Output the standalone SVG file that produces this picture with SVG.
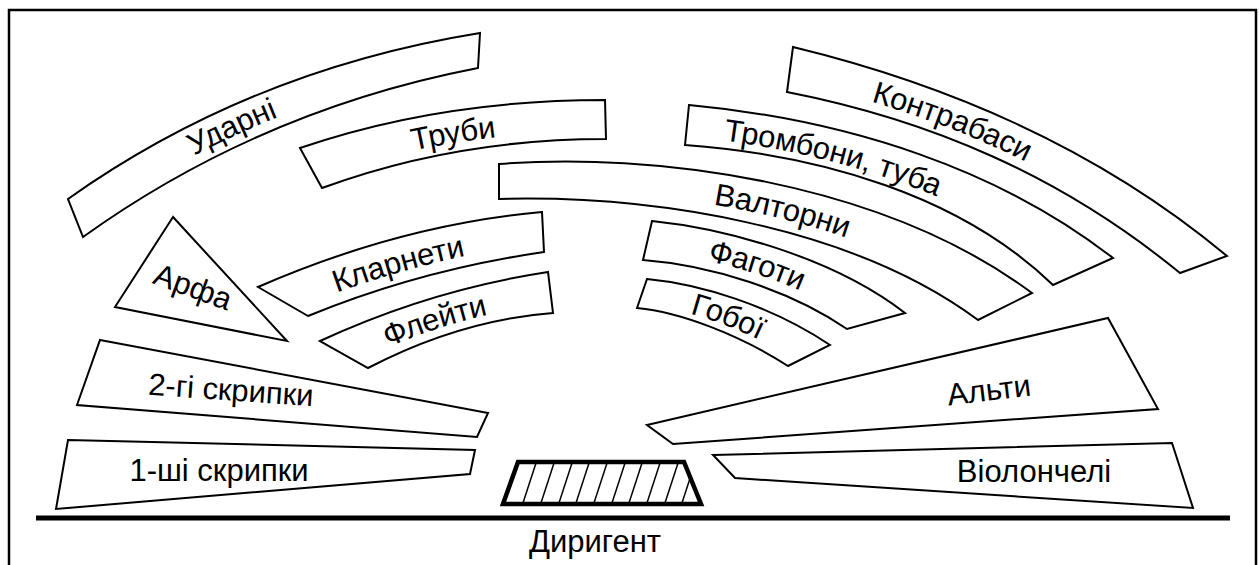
<svg xmlns="http://www.w3.org/2000/svg" width="1259" height="565" viewBox="0 0 1259 565">
  <style>
    .band { fill: #fff; stroke: #000; stroke-width: 2; stroke-linejoin: miter; }
    .guide { fill: none; stroke: none; }
    .lbl { font-family: "Liberation Sans", Arial, sans-serif; font-size: 31px; fill: #000; }
    .hatch { stroke: #000; stroke-width: 1.5; }
  </style>
  <defs>
    <!-- invisible centre lines of the curved seating rows, used to set the labels -->
    <path id="g-udarni" class="guide" d="M75,216 Q255,88 479,48"/>
    <path id="g-truby" class="guide" d="M311,168 Q448,120 605,120"/>
    <path id="g-klarnety" class="guide" d="M283,302 Q410,248 543,232"/>
    <path id="g-fleity" class="guide" d="M344,355 Q445,305 550,293"/>
    <path id="g-kontrabasy" class="guide" d="M790,70 C945,103 1080,162 1203,265"/>
    <path id="g-trombony" class="guide" d="M687,125 C840,140 990,190 1083,272"/>
    <path id="g-valtorny" class="guide" d="M499,181 C650,173 865,202 1005,306"/>
    <path id="g-fagoty" class="guide" d="M648,240 C715,246 810,272 876,321"/>
    <path id="g-goboi" class="guide" d="M642,293 C690,298 755,320 809,355"/>
    <clipPath id="podium-clip">
      <polygon points="518,462 684,462 701,504 503,504"/>
    </clipPath>
  </defs>

  <!-- outer frame, open at the bottom edge -->
  <path d="M9,570 V10 H1256 V570" fill="none" stroke="#000" stroke-width="2.5"/>

  <!-- stage front line -->
  <g id="connectors">
    <line x1="36" y1="518" x2="1230" y2="518" stroke="#000" stroke-width="5"/>
  </g>

  <!-- left side -->
  <g id="udarni">
    <path class="band" d="M68,199 Q250,70 480,33 L478,68 Q260,110 83,237 Z"/>
    <text class="lbl" dominant-baseline="central"><textPath href="#g-udarni" startOffset="41%" text-anchor="middle">Ударні</textPath></text>
  </g>
  <g id="truby">
    <path class="band" d="M300,148 Q440,100 605,100 L606,139 Q455,139 322,188 Z"/>
    <text class="lbl" dominant-baseline="central"><textPath href="#g-truby" startOffset="49%" text-anchor="middle">Труби</textPath></text>
  </g>
  <g id="arfa">
    <polygon class="band" points="173,217 115,307 287,341"/>
    <text class="lbl" x="193" y="287" text-anchor="middle" dominant-baseline="central" transform="rotate(20 193 287)">Арфа</text>
  </g>
  <g id="klarnety">
    <path class="band" d="M258,287 Q400,225 542,212 L544,252 Q420,270 308,316 Z"/>
    <text class="lbl" dominant-baseline="central"><textPath href="#g-klarnety" startOffset="45%" text-anchor="middle">Кларнети</textPath></text>
  </g>
  <g id="fleity">
    <path class="band" d="M320,341 Q430,290 548,272 L553,313 Q460,320 368,368 Z"/>
    <text class="lbl" dominant-baseline="central"><textPath href="#g-fleity" startOffset="45%" text-anchor="middle">Флейти</textPath></text>
  </g>
  <g id="skrypky-2">
    <polygon class="band" points="100,340 488,413 477,437 77,405"/>
    <text class="lbl" x="231" y="390" text-anchor="middle" dominant-baseline="central" transform="rotate(4 231 390)">2-гі скрипки</text>
  </g>
  <g id="skrypky-1">
    <polygon class="band" points="68,440 475,450 470,474 56,509"/>
    <text class="lbl" x="219" y="470" text-anchor="middle" dominant-baseline="central">1-ші скрипки</text>
  </g>

  <!-- right side -->
  <g id="kontrabasy">
    <path class="band" d="M793,47 C950,85 1100,150 1227,256 L1180,273 C1060,175 930,120 787,92 Z"/>
    <text class="lbl" dominant-baseline="central"><textPath href="#g-kontrabasy" startOffset="37%" text-anchor="middle">Контрабаси</textPath></text>
  </g>
  <g id="trombony">
    <path class="band" d="M689,105 C850,120 1000,170 1113,258 L1053,285 C960,195 820,155 685,145 Z"/>
    <text class="lbl" dominant-baseline="central"><textPath href="#g-trombony" startOffset="35%" text-anchor="middle">Тромбони, туба</textPath></text>
  </g>
  <g id="valtorny">
    <path class="band" d="M499,164 C650,152 880,180 1032,293 L978,320 C850,225 650,195 499,199 Z"/>
    <text class="lbl" dominant-baseline="central"><textPath href="#g-valtorny" startOffset="54%" text-anchor="middle">Валторни</textPath></text>
  </g>
  <g id="fagoty">
    <path class="band" d="M652,221 C720,228 830,255 905,313 L847,329 C790,290 710,265 643,260 Z"/>
    <text class="lbl" dominant-baseline="central"><textPath href="#g-fagoty" startOffset="46%" text-anchor="middle">Фаготи</textPath></text>
  </g>
  <g id="goboi">
    <path class="band" d="M647,279 C700,284 770,305 830,345 L788,366 C740,335 680,312 637,308 Z"/>
    <text class="lbl" dominant-baseline="central"><textPath href="#g-goboi" startOffset="50%" text-anchor="middle">Гобої</textPath></text>
  </g>
  <g id="alty">
    <polygon class="band" points="647,425 1108,318 1158,409 673,444"/>
    <text class="lbl" x="989" y="390" text-anchor="middle" dominant-baseline="central" transform="rotate(-7 989 390)">Альти</text>
  </g>
  <g id="violoncheli">
    <polygon class="band" points="713,455 1172,443 1193,508 735,478"/>
    <text class="lbl" x="1034" y="471" text-anchor="middle" dominant-baseline="central">Віолончелі</text>
  </g>

  <!-- conductor's podium -->
  <g id="podium">
    <g clip-path="url(#podium-clip)">
      <line class="hatch" x1="522" y1="506" x2="537" y2="460"/>
      <line class="hatch" x1="540" y1="506" x2="555" y2="460"/>
      <line class="hatch" x1="558" y1="506" x2="573" y2="460"/>
      <line class="hatch" x1="575" y1="506" x2="590" y2="460"/>
      <line class="hatch" x1="593" y1="506" x2="608" y2="460"/>
      <line class="hatch" x1="611" y1="506" x2="626" y2="460"/>
      <line class="hatch" x1="628" y1="506" x2="643" y2="460"/>
      <line class="hatch" x1="646" y1="506" x2="661" y2="460"/>
      <line class="hatch" x1="664" y1="506" x2="679" y2="460"/>
      <line class="hatch" x1="681" y1="506" x2="696" y2="460"/>
    </g>
    <polygon points="518,462 684,462 701,504 503,504" fill="none" stroke="#000" stroke-width="4.5"/>
  </g>
  <g id="dyrygent">
    <text class="lbl" x="595" y="541" text-anchor="middle" dominant-baseline="central">Диригент</text>
  </g>
</svg>
